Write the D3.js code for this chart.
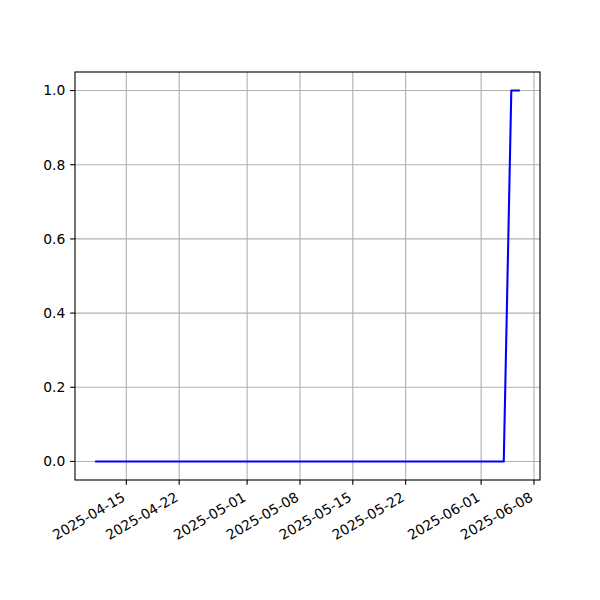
<!DOCTYPE html>
<html>
<head>
<meta charset="utf-8">
<script src="https://cdn.jsdelivr.net/npm/d3@7"></script>
<style>
  html, body { margin: 0; padding: 0; background: #fff; }
  svg { display: block; font-family: "DejaVu Sans", sans-serif; }
</style>
</head>
<body>
<svg id="chart" width="600" height="600"></svg>
<script>
// ---- data ----
const dates = [
  "2025-04-11","2025-04-12","2025-04-13","2025-04-14","2025-04-15","2025-04-16","2025-04-17",
  "2025-04-18","2025-04-19","2025-04-20","2025-04-21","2025-04-22","2025-04-23","2025-04-24",
  "2025-04-25","2025-04-26","2025-04-27","2025-04-28","2025-04-29","2025-04-30","2025-05-01",
  "2025-05-02","2025-05-03","2025-05-04","2025-05-05","2025-05-06","2025-05-07","2025-05-08",
  "2025-05-09","2025-05-10","2025-05-11","2025-05-12","2025-05-13","2025-05-14","2025-05-15",
  "2025-05-16","2025-05-17","2025-05-18","2025-05-19","2025-05-20","2025-05-21","2025-05-22",
  "2025-05-23","2025-05-24","2025-05-25","2025-05-26","2025-05-27","2025-05-28","2025-05-29",
  "2025-05-30","2025-05-31","2025-06-01","2025-06-02","2025-06-03","2025-06-04","2025-06-05",
  "2025-06-06"
];
const values = [
  0,0,0,0,0,0,0,
  0,0,0,0,0,0,0,
  0,0,0,0,0,0,0,
  0,0,0,0,0,0,0,
  0,0,0,0,0,0,0,
  0,0,0,0,0,0,0,
  0,0,0,0,0,0,0,
  0,0,0,0,0,0,1,
  1
];
const xTickLabels = ["2025-04-15","2025-04-22","2025-05-01","2025-05-08","2025-05-15","2025-05-22","2025-06-01","2025-06-08"];
const yTickValues = [0.0, 0.2, 0.4, 0.6, 0.8, 1.0];

// ---- layout ----
const mLeft = 75, mRight = 540, mTop = 72, mBottom = 480;
const parse = d3.utcParse("%Y-%m-%d");
const data = dates.map((d, i) => ({ date: parse(d), value: values[i] }));

const t0 = data[0].date, t1 = data[data.length - 1].date;
const span = t1 - t0;
const x = d3.scaleUtc()
  .domain([new Date(+t0 - 0.05 * span), new Date(+t1 + 0.05 * span)])
  .range([mLeft, mRight]);
const y = d3.scaleLinear().domain([-0.05, 1.05]).range([mBottom, mTop]);

const svg = d3.select("#chart");
const fontSize = 13.89;
const tickLen = 4.86, pad = 4.86;
const xTicks = xTickLabels.map(parse);

// grid
const grid = svg.append("g");
grid.selectAll("line.gx").data(xTicks).enter().append("line")
  .attr("x1", d => x(d)).attr("x2", d => x(d))
  .attr("y1", mTop).attr("y2", mBottom)
  .attr("stroke", "#b0b0b0").attr("stroke-width", 1.11);
grid.selectAll("line.gy").data(yTickValues).enter().append("line")
  .attr("x1", mLeft).attr("x2", mRight)
  .attr("y1", d => y(d)).attr("y2", d => y(d))
  .attr("stroke", "#b0b0b0").attr("stroke-width", 1.11);

// line
const line = d3.line().x(d => x(d.date)).y(d => y(d.value));
svg.append("path").datum(data)
  .attr("d", line)
  .attr("fill", "none")
  .attr("stroke", "#0000ff")
  .attr("stroke-width", 2.08)
  .attr("stroke-linejoin", "round")
  .attr("stroke-linecap", "square");

// spines
svg.append("rect")
  .attr("x", mLeft).attr("y", mTop)
  .attr("width", mRight - mLeft).attr("height", mBottom - mTop)
  .attr("fill", "none").attr("stroke", "#000").attr("stroke-width", 1.11);

// x axis ticks
const xa = svg.append("g");
xa.selectAll("line").data(xTicks).enter().append("line")
  .attr("x1", d => x(d)).attr("x2", d => x(d))
  .attr("y1", mBottom).attr("y2", mBottom + tickLen)
  .attr("stroke", "#000").attr("stroke-width", 1.11);
const h = fontSize * 1.17;
xa.selectAll("text").data(xTicks).enter().append("text")
  .attr("transform", d => {
    const x0 = x(d) - h / 4 + 1.5;
    const y0 = mBottom + tickLen + pad + h / 2 * 0.866 - 1;
    return `translate(${x0},${y0}) rotate(-30)`;
  })
  .attr("text-anchor", "end")
  .attr("dy", "0.35em")
  .attr("font-size", fontSize)
  .attr("fill", "#000")
  .text((d, i) => xTickLabels[i]);

// y axis ticks
const ya = svg.append("g");
ya.selectAll("line").data(yTickValues).enter().append("line")
  .attr("x1", mLeft - tickLen).attr("x2", mLeft)
  .attr("y1", d => y(d)).attr("y2", d => y(d))
  .attr("stroke", "#000").attr("stroke-width", 1.11);
ya.selectAll("text").data(yTickValues).enter().append("text")
  .attr("x", mLeft - tickLen - pad)
  .attr("y", d => y(d))
  .attr("dy", "0.35em")
  .attr("text-anchor", "end")
  .attr("font-size", fontSize)
  .attr("fill", "#000")
  .text(d => d3.format(".1f")(d));
</script>
</body>
</html>
